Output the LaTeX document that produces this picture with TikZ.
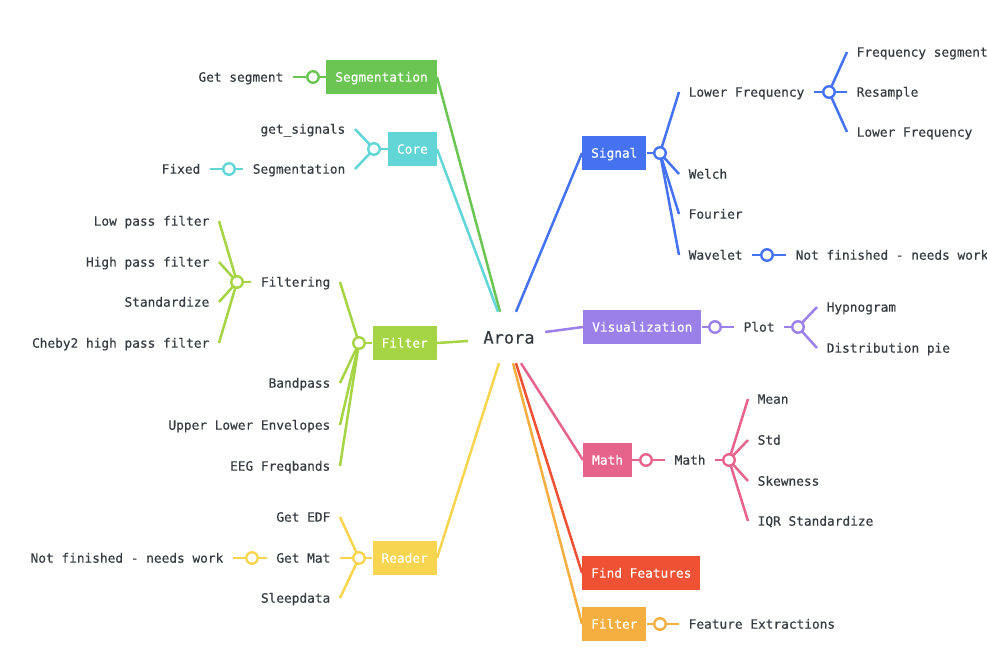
\documentclass[tikz,border=0pt]{standalone}
\usepackage{fontspec}
\newfontfamily\monofam[FakeBold=0.35]{DejaVu Sans Mono}
\newcommand\leaffont{\monofam\fontsize{12.8}{15}\selectfont}
\newcommand\rootfont{\monofam\fontsize{17}{20}\selectfont}
\definecolor{ink}{HTML}{363B42}
\definecolor{cSeg}{HTML}{6BC553}
\definecolor{cCore}{HTML}{62D6D6}
\definecolor{cFilt}{HTML}{A5D444}
\definecolor{cRead}{HTML}{F8D550}
\definecolor{cSig}{HTML}{4472F1}
\definecolor{cVis}{HTML}{9B80E9}
\definecolor{cMath}{HTML}{E6648B}
\definecolor{cFind}{HTML}{EE5133}
\definecolor{cFeat}{HTML}{F5AF40}
\tikzset{
  txt/.style={font=\leaffont, text height=9.3pt, text depth=0pt},
  leafL/.style={txt, anchor=east, inner xsep=9.5pt, inner ysep=2pt, text=ink},
  leafR/.style={txt, anchor=west, inner xsep=9.5pt, inner ysep=2pt, text=ink},
  branchL/.style={txt, anchor=east, fill=#1, text=white, minimum height=34pt, inner xsep=9pt, inner ysep=0pt},
  branchR/.style={txt, anchor=west, fill=#1, text=white, minimum height=34pt, inner xsep=9pt, inner ysep=0pt},
  junction/.style={circle, draw=#1, fill=white, line width=2.4pt, minimum size=11.5pt, inner sep=0pt},
  link/.style={draw=#1, line width=2.5pt},
  rootbox/.style={font=\rootfont, text=ink, minimum width=77pt, minimum height=51pt, inner sep=0pt},
}
\begin{document}
\begin{tikzpicture}[x=1pt, y=-1pt]
\useasboundingbox (0,0) rectangle (987,657);
\fill[white] (0,0) rectangle (987,657);

% centre
\node[rootbox] (root) at (509,337.5) {Arora};

% ---------- left side ----------
% Segmentation
\node[branchL=cSeg] (seg) at (437,77) {Segmentation};
\node[junction=cSeg] (jseg) at (313,77) {};
\node[leafL] (getseg) at (293,77) {Get segment};
\draw[link=cSeg] (seg.west) -- (jseg);
\draw[link=cSeg] (jseg) -- (getseg.east);

% Core
\node[branchL=cCore] (core) at (437,149) {Core};
\node[leafL] (getsig) at (355,129) {get\_signals};
\node[leafL] (cseg) at (355,169) {Segmentation};
\node[leafL] (fixed) at (210,169) {Fixed};
\draw[link=cCore] (core.west) -- (374,149) coordinate (jcorep);
\draw[link=cCore] (getsig.east) -- (jcorep) -- (cseg.east);
\node[junction=cCore] (jcore) at (jcorep) {};
\node[junction=cCore] (jcseg) at (229,169) {};
\draw[link=cCore] (cseg.west) -- (jcseg);
\draw[link=cCore] (jcseg) -- (fixed.east);

% Filter
\node[branchL=cFilt] (filt) at (437,343) {Filter};
\node[leafL] (filtering) at (340,282) {Filtering};
\node[leafL] (bandpass) at (340,383) {Bandpass};
\node[leafL] (envel) at (340,425) {Upper Lower Envelopes};
\node[leafL] (eeg) at (340,466) {EEG Freqbands};
\coordinate (jfiltp) at (359,343);
\draw[link=cFilt] (filt.west) -- (jfiltp);
\foreach \n in {filtering,bandpass,envel,eeg}
  \draw[link=cFilt] (jfiltp) -- (\n.east);
\node[junction=cFilt] (jfilt) at (jfiltp) {};
\node[leafL] (lowpass) at (219,221) {Low pass filter};
\node[leafL] (highpass) at (219,262) {High pass filter};
\node[leafL] (standard) at (219,302) {Standardize};
\node[leafL] (cheby) at (219,343) {Cheby2 high pass filter};
\coordinate (jfiltingp) at (237,282);
\draw[link=cFilt] (filtering.west) -- (jfiltingp);
\foreach \n in {lowpass,highpass,standard,cheby}
  \draw[link=cFilt] (jfiltingp) -- (\n.east);
\node[junction=cFilt] (jfilting) at (jfiltingp) {};

% Reader
\node[branchL=cRead] (read) at (437,558) {Reader};
\node[leafL] (edf) at (340,517) {Get EDF};
\node[leafL] (mat) at (340,558) {Get Mat};
\node[leafL] (sleep) at (340,598) {Sleepdata};
\coordinate (jreadp) at (359,558);
\draw[link=cRead] (read.west) -- (jreadp);
\foreach \n in {edf,mat,sleep}
  \draw[link=cRead] (jreadp) -- (\n.east);
\node[junction=cRead] (jread) at (jreadp) {};
\node[leafL] (nfmat) at (233,558) {Not finished - needs work};
\node[junction=cRead] (jmat) at (252,558) {};
\draw[link=cRead] (mat.west) -- (jmat);
\draw[link=cRead] (jmat) -- (nfmat.east);

% ---------- right side ----------
% Signal
\node[branchR=cSig] (sig) at (582,153) {Signal};
\node[leafR] (lowfreq) at (679,92) {Lower Frequency};
\node[leafR] (welch) at (679,174) {Welch};
\node[leafR] (fourier) at (679,214) {Fourier};
\node[leafR] (wavelet) at (679,255) {Wavelet};
\coordinate (jsigp) at (660,153);
\draw[link=cSig] (sig.east) -- (jsigp);
\foreach \n in {lowfreq,welch,fourier,wavelet}
  \draw[link=cSig] (jsigp) -- (\n.west);
\node[junction=cSig] (jsig) at (jsigp) {};
\node[leafR] (freqseg) at (847,52) {Frequency segment};
\node[leafR] (resample) at (847,92) {Resample};
\node[leafR] (lowfreq2) at (847,132) {Lower Frequency};
\coordinate (jlowp) at (829,92);
\draw[link=cSig] (lowfreq.east) -- (jlowp);
\foreach \n in {freqseg,resample,lowfreq2}
  \draw[link=cSig] (jlowp) -- (\n.west);
\node[junction=cSig] (jlow) at (jlowp) {};
\node[leafR] (nfwave) at (786,255) {Not finished - needs work};
\node[junction=cSig] (jwave) at (767,255) {};
\draw[link=cSig] (wavelet.east) -- (jwave);
\draw[link=cSig] (jwave) -- (nfwave.west);

% Visualization
\node[branchR=cVis] (vis) at (583,327) {Visualization};
\node[leafR] (plot) at (734,327) {Plot};
\node[junction=cVis] (jvis) at (715,327) {};
\draw[link=cVis] (vis.east) -- (jvis);
\draw[link=cVis] (jvis) -- (plot.west);
\node[leafR] (hypno) at (817,307) {Hypnogram};
\node[leafR] (distpie) at (817,348) {Distribution pie};
\coordinate (jplotp) at (798,327);
\draw[link=cVis] (plot.east) -- (jplotp);
\foreach \n in {hypno,distpie}
  \draw[link=cVis] (jplotp) -- (\n.west);
\node[junction=cVis] (jplot) at (jplotp) {};

% Math
\node[branchR=cMath] (math) at (583,460) {Math};
\node[leafR] (math2) at (665,460) {Math};
\node[junction=cMath] (jmath) at (646,460) {};
\draw[link=cMath] (math.east) -- (jmath);
\draw[link=cMath] (jmath) -- (math2.west);
\node[leafR] (mean) at (748,399) {Mean};
\node[leafR] (std) at (748,440) {Std};
\node[leafR] (skew) at (748,481) {Skewness};
\node[leafR] (iqr) at (748,521) {IQR Standardize};
\coordinate (jmath2p) at (729,460);
\draw[link=cMath] (math2.east) -- (jmath2p);
\foreach \n in {mean,std,skew,iqr}
  \draw[link=cMath] (jmath2p) -- (\n.west);
\node[junction=cMath] (jmath2) at (jmath2p) {};

% Find Features
\node[branchR=cFind] (find) at (582,573) {Find Features};

% Filter (feature extraction)
\node[branchR=cFeat] (feat) at (582,624) {Filter};
\node[leafR] (featx) at (679,624) {Feature Extractions};
\node[junction=cFeat] (jfeat) at (660,624) {};
\draw[link=cFeat] (feat.east) -- (jfeat);
\draw[link=cFeat] (jfeat) -- (featx.west);

% ---------- main branches from the centre ----------
\draw[link=cSeg] ([xshift=-9pt]root.north) -- (seg.east);
\draw[link=cCore] ([xshift=-11pt]root.north) -- (core.east);
\draw[link=cSig] ([xshift=7pt]root.north) -- (sig.west);
\draw[link=cFilt] ([xshift=-2.5pt,yshift=-3.5pt]root.west) -- (filt.east);
\draw[link=cVis] ([xshift=-2.5pt,yshift=5.5pt]root.east) -- (vis.west);
\draw[link=cRead] ([xshift=-10pt]root.south) -- (read.east);
\draw[link=cFeat] ([xshift=4pt]root.south) -- (feat.west);
\draw[link=cFind] ([xshift=7pt]root.south) -- (find.west);
\draw[link=cMath] ([xshift=12pt]root.south) -- (math.west);
\end{tikzpicture}
\end{document}
